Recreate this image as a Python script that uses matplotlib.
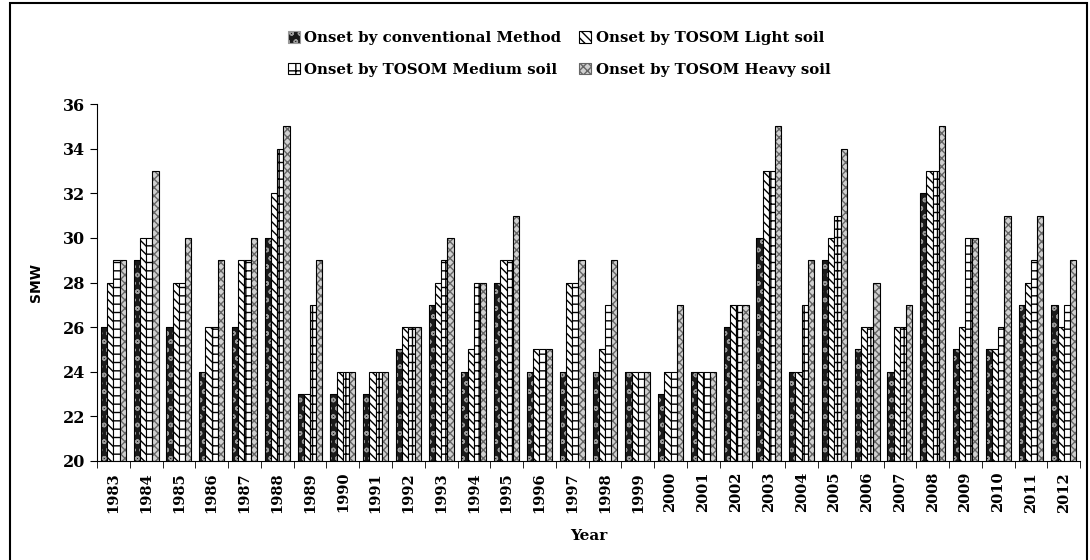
import numpy as np
import matplotlib
matplotlib.use('Agg')
from matplotlib import pyplot as plt
from matplotlib.patches import Rectangle

years = [str(y) for y in range(1983, 2013)]

conventional = [26, 29, 26, 24, 26, 30, 23, 23, 23, 25,
                27, 24, 28, 24, 24, 24, 24, 23, 24, 26,
                30, 24, 29, 25, 24, 32, 25, 25, 27, 27]
light_soil = [28, 30, 28, 26, 29, 32, 23, 24, 24, 26,
              28, 25, 29, 25, 28, 25, 24, 24, 24, 27,
              33, 24, 30, 26, 26, 33, 26, 25, 28, 26]
medium_soil = [29, 30, 28, 26, 29, 34, 27, 24, 24, 26,
               29, 28, 29, 25, 28, 27, 24, 24, 24, 27,
               33, 27, 31, 26, 26, 33, 30, 26, 29, 27]
heavy_soil = [29, 33, 30, 29, 30, 35, 29, 24, 24, 26,
              30, 28, 31, 25, 29, 29, 24, 27, 24, 27,
              35, 29, 34, 28, 27, 35, 30, 31, 31, 29]

series = [
    ('Onset by conventional Method', conventional, '#1a1a1a', '#9a9a9a', 'oo'),
    ('Onset by TOSOM Light soil', light_soil, 'white', 'black', '\\\\\\\\'),
    ('Onset by TOSOM Medium soil', medium_soil, 'white', 'black', '++'),
    ('Onset by TOSOM Heavy soil', heavy_soil, '#d0d0d0', '#666666', 'xxxx'),
]

serif = 'DejaVu Serif'
fig = plt.figure(figsize=(10.9, 5.6), dpi=100)
ax = fig.add_axes([0.089, 0.177, 0.902, 0.637])

x = np.arange(len(years))
width = 0.19
handles = []
for i, (name, vals, face, hcol, hatch) in enumerate(series):
    pos = x + (i - 1.5) * width
    base = 20
    h = np.array(vals) - base
    ax.bar(pos, h, width, bottom=base, color=face, edgecolor=hcol,
           hatch=hatch, linewidth=0)
    ax.bar(pos, h, width, bottom=base, fill=False, edgecolor='black',
           linewidth=0.8)
    handles.append(Rectangle((0, 0), 1, 1, facecolor=face, edgecolor=hcol,
                             hatch=hatch, linewidth=0.8, label=name))

ax.set_ylim(20, 36)
ax.set_yticks(range(20, 37, 2))
ax.set_xlim(-0.5, len(years) - 0.5)
ax.set_xticks(x)
ax.set_xticklabels(years, rotation=90, fontsize=10.5, fontweight='bold',
                   family=serif)
ax.set_xticks(np.arange(-0.5, len(years)), minor=True)
ax.tick_params(axis='x', which='major', length=0, pad=8)
ax.tick_params(axis='x', which='minor', length=5, direction='out')
ax.tick_params(axis='y', length=5, direction='out', labelsize=11.5)
for lab in ax.get_yticklabels():
    lab.set_fontweight('bold')
    lab.set_family(serif)

for s in ['top', 'right']:
    ax.spines[s].set_visible(False)

ax.set_ylabel('SMW', fontsize=10, fontweight='bold', labelpad=14)
ax.set_xlabel('Year', fontsize=11, fontweight='bold', family=serif,
              labelpad=12)

# legend rows: conventional / light on top, medium / heavy below
order = [handles[0], handles[2], handles[1], handles[3]]
fig.legend(handles=order, loc='upper center', bbox_to_anchor=(0.513, 0.968),
           ncol=2, frameon=False, handlelength=0.8, handleheight=0.8,
           handletextpad=0.3, columnspacing=1.2, labelspacing=1.15,
           prop={'family': serif, 'weight': 'bold', 'size': 10.8})

fig.patches.append(Rectangle((10 / 1090, -0.01), 1077 / 1090, 1.005,
                             transform=fig.transFigure, fill=False,
                             edgecolor='black', linewidth=1.5))

fig.savefig('out.png', dpi=100)
